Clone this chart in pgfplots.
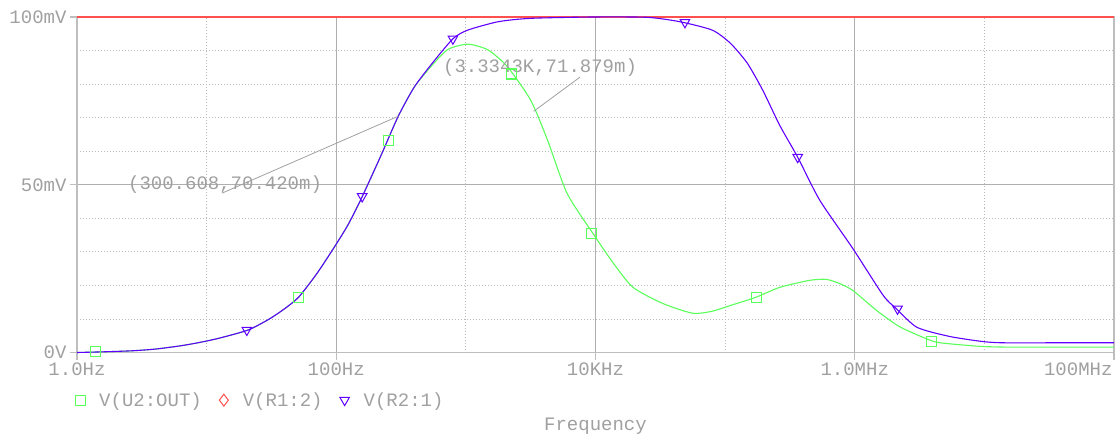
\documentclass[border=0pt]{standalone}
\usepackage{fontspec}
\setmainfont{Liberation Mono}
\usepackage{pgfplots}
\pgfplotsset{compat=1.18}
\definecolor{tgray}{RGB}{160,160,160}
\definecolor{axgray}{RGB}{190,190,190}
\definecolor{gridgray}{RGB}{175,175,175}
\definecolor{dotgray}{RGB}{185,185,185}
\definecolor{pgreen}{RGB}{90,255,90}
\definecolor{pblue}{RGB}{96,0,255}
\definecolor{pred}{RGB}{255,80,80}
\begin{document}
\begin{tikzpicture}[x=1pt,y=1pt]
\path[use as bounding box] (-77pt,-81.5pt) rectangle (1042pt,352.5pt);
\begin{axis}[
  scale only axis, width=1037pt, height=335.5pt,
  xmin=0, xmax=8, ymin=0, ymax=100,
  axis line style={axgray, line width=1.4pt},
  font=\fontsize{19}{19}\selectfont,
  tick label style={text=tgray},
  xtick={0,2,4,6}, xticklabels={1.0Hz,100Hz,10KHz,1.0MHz},
  extra x ticks={8}, extra x tick labels={100MHz},
  extra x tick style={xticklabel style={anchor=north east, xshift=2pt}, grid=none},
  minor xtick={1,3,5,7},
  ytick={0,50,100}, yticklabels={0V,50mV,100mV},
  minor ytick={10,20,30,40,60,70,80,90},
  tick align=outside, major tick length=7pt, minor tick length=0pt,
  tick style={axgray, line width=1.2pt},
  xtick pos=bottom, ytick pos=left,
  xmajorgrids, ymajorgrids, xminorgrids, yminorgrids,
  major grid style={gridgray, line width=1.1pt},
  minor grid style={dotgray, line width=0.9pt, dash pattern=on 1pt off 2pt},
  xlabel={Frequency},
  xlabel style={text=tgray, at={(rel axis cs:0.5,0)}, anchor=north, yshift=-62pt},
  legend style={at={(rel axis cs:-0.0019,-0.142)}, anchor=west, draw=none, fill=none,
    inner sep=0pt, text=tgray, font=\fontsize{19}{19}\selectfont,
    legend columns=-1,
    /tikz/every even column/.append style={column sep=15pt}},
  legend image code/.code={\path[draw=none] (0pt,0pt) -- (22pt,0pt); \draw[#1] plot coordinates {(5pt,0pt)};},
  clip=false,
]
% V(U2:OUT)
\addplot[pgreen, line width=1.1pt, smooth, tension=0.4, forget plot] coordinates {
(0,0) (0.2,0.2) (0.42,0.5) (0.6,1.0) (0.8,2.0) (0.96,3.1) (1.1,4.3) (1.32,6.7)
(1.48,9.9) (1.6,13) (1.71,16.5) (1.85,23.5) (1.985,31.4) (2.09,38) (2.19,45.6)
(2.346,58.8) (2.478,70.4) (2.6,79) (2.73,85.2) (2.86,90.3) (3.015,91.9) (3.17,90.2)
(3.32,85.2) (3.5,75.2) (3.63,63.3) (3.78,47.5) (3.98,35.5) (4.14,26.5) (4.29,19.4)
(4.52,14.6) (4.75,11.7) (4.9,12.3) (5.04,14) (5.24,16.5) (5.42,19.4) (5.65,21.5)
(5.78,21.8) (5.88,20.6) (5.985,18.5) (6.17,12.5) (6.35,7.6) (6.6,3.4) (6.73,2.6)
(6.98,1.8) (7.2,1.6) (7.6,1.6) (8,1.6)};
% V(R1:2)
\addplot[pred, line width=1.1pt, forget plot] coordinates {(0,100) (8,100)};
% V(R2:1)
\addplot[pblue, line width=1.1pt, smooth, tension=0.4, forget plot] coordinates {
(0,0) (0.2,0.2) (0.42,0.5) (0.6,1.0) (0.8,2.0) (0.96,3.1) (1.1,4.3) (1.32,6.7)
(1.48,9.9) (1.6,13) (1.71,16.5) (1.85,23.5) (1.985,31.4) (2.09,38) (2.19,45.6)
(2.346,58.8) (2.478,70.4) (2.6,79) (2.73,85.7) (2.9,93.5) (3.015,96.1) (3.25,98.6)
(3.5,99.6) (3.98,100) (4.4,99.9) (4.65,98.6) (4.9,96.1) (5.04,92.2) (5.17,86.3)
(5.29,78.2) (5.42,67.8) (5.56,58.2) (5.73,45.4) (5.985,31) (6.22,17) (6.32,13.1)
(6.48,7.5) (6.73,4.8) (6.98,3.3) (7.14,2.9) (7.6,2.9) (8,2.9)};
% markers
\addplot[only marks, mark=square, mark size=5pt, draw=pgreen, mark options={line width=1.1pt}, forget plot] coordinates {
(0.14,0.3) (1.71,16.5) (2.40,63.3) (3.35,83.0) (3.97,35.5) (5.24,16.5) (6.59,3.4)};
\addplot[only marks, mark=triangle, mark size=5.5pt, draw=pblue, mark options={rotate=180, line width=1pt}, forget plot] coordinates {
(1.31,6.7) (2.2,46.5) (2.9,93.5) (4.69,98.4) (5.56,58.2) (6.33,13)};
\addlegendimage{only marks, mark=square, mark size=5pt, draw=pgreen, color=pgreen, mark options={line width=1.1pt, draw=pgreen}}
\addlegendentry{V(U2:OUT)}
\addlegendimage{only marks, mark=diamond, mark size=6pt, draw=pred, color=pred, mark options={line width=1pt}}
\addlegendentry{V(R1:2)}
\addlegendimage{only marks, mark=triangle, mark size=5.5pt, draw=pblue, color=pblue, mark options={rotate=180, line width=1pt}}
\addlegendentry{V(R2:1)}
% annotations
\draw[tgray, line width=0.8pt] (axis cs:1.119,47.5) -- (axis cs:2.478,70.42);
\node[text=tgray] at (axis cs:1.142,49.9) {(300.608,70.420m)};
\draw[tgray, line width=0.8pt] (axis cs:3.881,82.1) -- (axis cs:3.523,71.879);
\node[text=tgray] at (axis cs:3.572,84.8) {(3.3343K,71.879m)};
\end{axis}
\end{tikzpicture}
\end{document}
